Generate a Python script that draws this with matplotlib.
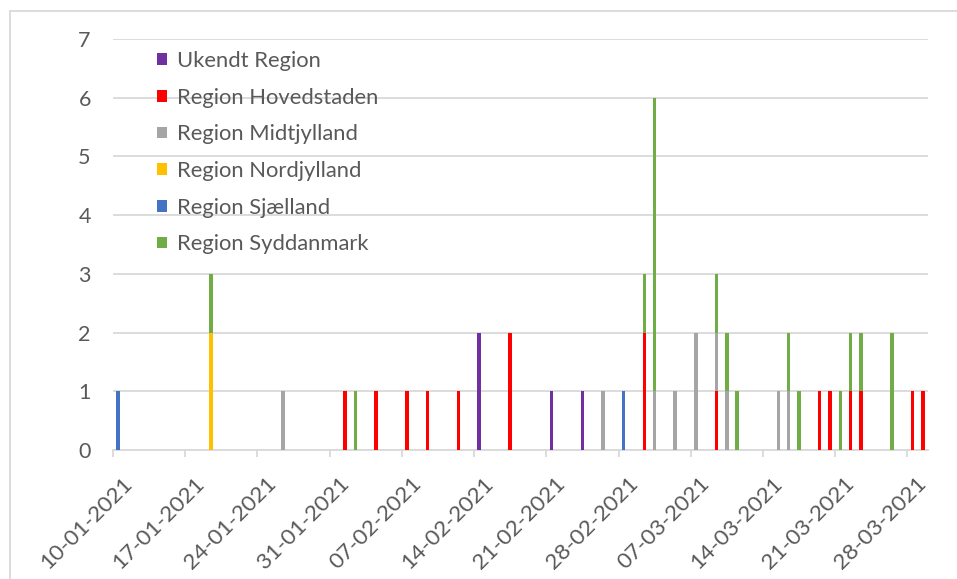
import numpy as np
import pandas as pd
import matplotlib
matplotlib.use('Agg')
import matplotlib.pyplot as plt
import matplotlib.dates as mdates
import matplotlib.transforms as mtrans
from matplotlib.patches import Rectangle

# days with at least one case (2021)
dates = ['10-01', '19-01', '26-01', '01-02', '02-02', '04-02', '07-02', '09-02',
         '12-02', '14-02', '17-02', '21-02', '24-02', '26-02', '28-02', '02-03',
         '03-03', '05-03', '07-03', '09-03', '10-03', '11-03', '15-03', '16-03',
         '17-03', '19-03', '20-03', '21-03', '22-03', '23-03', '26-03', '28-03',
         '29-03']

ukendt      = [0, 0, 0, 0, 0, 0, 0, 0, 0, 2, 0, 1, 1, 0, 0, 0, 0, 0, 0, 0, 0, 0, 0, 0, 0, 0, 0, 0, 0, 0, 0, 0, 0]
hovedstaden = [0, 0, 0, 1, 0, 1, 1, 1, 1, 0, 2, 0, 0, 0, 0, 2, 0, 0, 0, 1, 0, 0, 0, 0, 0, 1, 1, 0, 1, 1, 0, 1, 1]
midtjylland = [0, 0, 1, 0, 0, 0, 0, 0, 0, 0, 0, 0, 0, 1, 0, 0, 1, 1, 2, 1, 1, 0, 1, 1, 0, 0, 0, 0, 0, 0, 0, 0, 0]
nordjylland = [0, 2, 0, 0, 0, 0, 0, 0, 0, 0, 0, 0, 0, 0, 0, 0, 0, 0, 0, 0, 0, 0, 0, 0, 0, 0, 0, 0, 0, 0, 0, 0, 0]
sjaelland   = [1, 0, 0, 0, 0, 0, 0, 0, 0, 0, 0, 0, 0, 0, 1, 0, 0, 0, 0, 0, 0, 0, 0, 0, 0, 0, 0, 0, 0, 0, 0, 0, 0]
syddanmark  = [0, 1, 0, 0, 1, 0, 0, 0, 0, 0, 0, 0, 0, 0, 0, 1, 5, 0, 0, 1, 1, 1, 0, 1, 1, 0, 0, 1, 1, 1, 2, 0, 0]

regions = ['Ukendt Region', 'Region Hovedstaden', 'Region Midtjylland',
           'Region Nordjylland', 'Region Sjælland', 'Region Syddanmark']
series = [ukendt, hovedstaden, midtjylland, nordjylland, sjaelland, syddanmark]
colors = ['#7030A0', '#FF0000', '#A5A5A5', '#FFC000', '#4472C4', '#70AD47']

start, end = '10-01', '29-03'
week_ticks = ['10-01', '17-01', '24-01', '31-01', '07-02', '14-02', '21-02',
              '28-02', '07-03', '14-03', '21-03', '28-03']

def to_num(d):
    return mdates.date2num(pd.to_datetime(d + '-2021', format='%d-%m-%Y'))

plt.rcParams['font.family'] = ['Lato', 'DejaVu Sans']
txt = '#595959'
grid = '#D9D9D9'

fig = plt.figure(figsize=(9.57, 5.79), dpi=100)
ax = fig.add_axes([113 / 957, 129 / 579, 815 / 957, 411 / 579])

x = np.array([to_num(d) for d in dates])
bottom = np.zeros(len(dates))
for name, vals, c in zip(regions, series, colors):
    vals = np.array(vals, dtype=float)
    ax.bar(x, vals, width=0.34, bottom=bottom, color=c, label=name, zorder=3)
    bottom += vals

ax.set_xlim(to_num(start) - 0.5, to_num(end) + 0.5)
ax.set_ylim(0, 7)
ax.set_yticks(range(0, 8))
ax.set_xticks([to_num(d) - 0.5 for d in week_ticks])
ax.set_xticklabels([d + '-2021' for d in week_ticks], rotation=45, ha='right',
                   va='top', rotation_mode='anchor')

ax.yaxis.grid(True, color=grid, lw=1.3, zorder=0)
for s in ['top', 'right', 'left']:
    ax.spines[s].set_visible(False)
ax.spines['bottom'].set_color(grid)
ax.spines['bottom'].set_linewidth(1.3)
ax.tick_params(axis='y', length=0, pad=16, labelsize=15.5, labelcolor=txt)
ax.tick_params(axis='x', length=5, width=1.3, color=grid, pad=2,
               labelsize=16.2, labelcolor=txt)

# shift the rotated date labels a little right and down
shift = mtrans.ScaledTranslation(9 / 100, -14 / 100, fig.dpi_scale_trans)
for lab in ax.get_xticklabels():
    lab.set_transform(lab.get_transform() + shift)

ax.legend(loc='upper left', bbox_to_anchor=(157 / 957, 1 - 51 / 579),
          bbox_transform=fig.transFigure, frameon=False, fontsize=15.8,
          labelcolor=txt, handlelength=0.45, handleheight=0.45,
          handletextpad=0.45, labelspacing=0.76, borderpad=0, borderaxespad=0)

fig.add_artist(Rectangle((10 / 957, -0.1), 1.2, 1.1 - 11 / 579,
                         transform=fig.transFigure, fill=False,
                         edgecolor=grid, lw=1.3))

fig.savefig('out.png', dpi=100)
